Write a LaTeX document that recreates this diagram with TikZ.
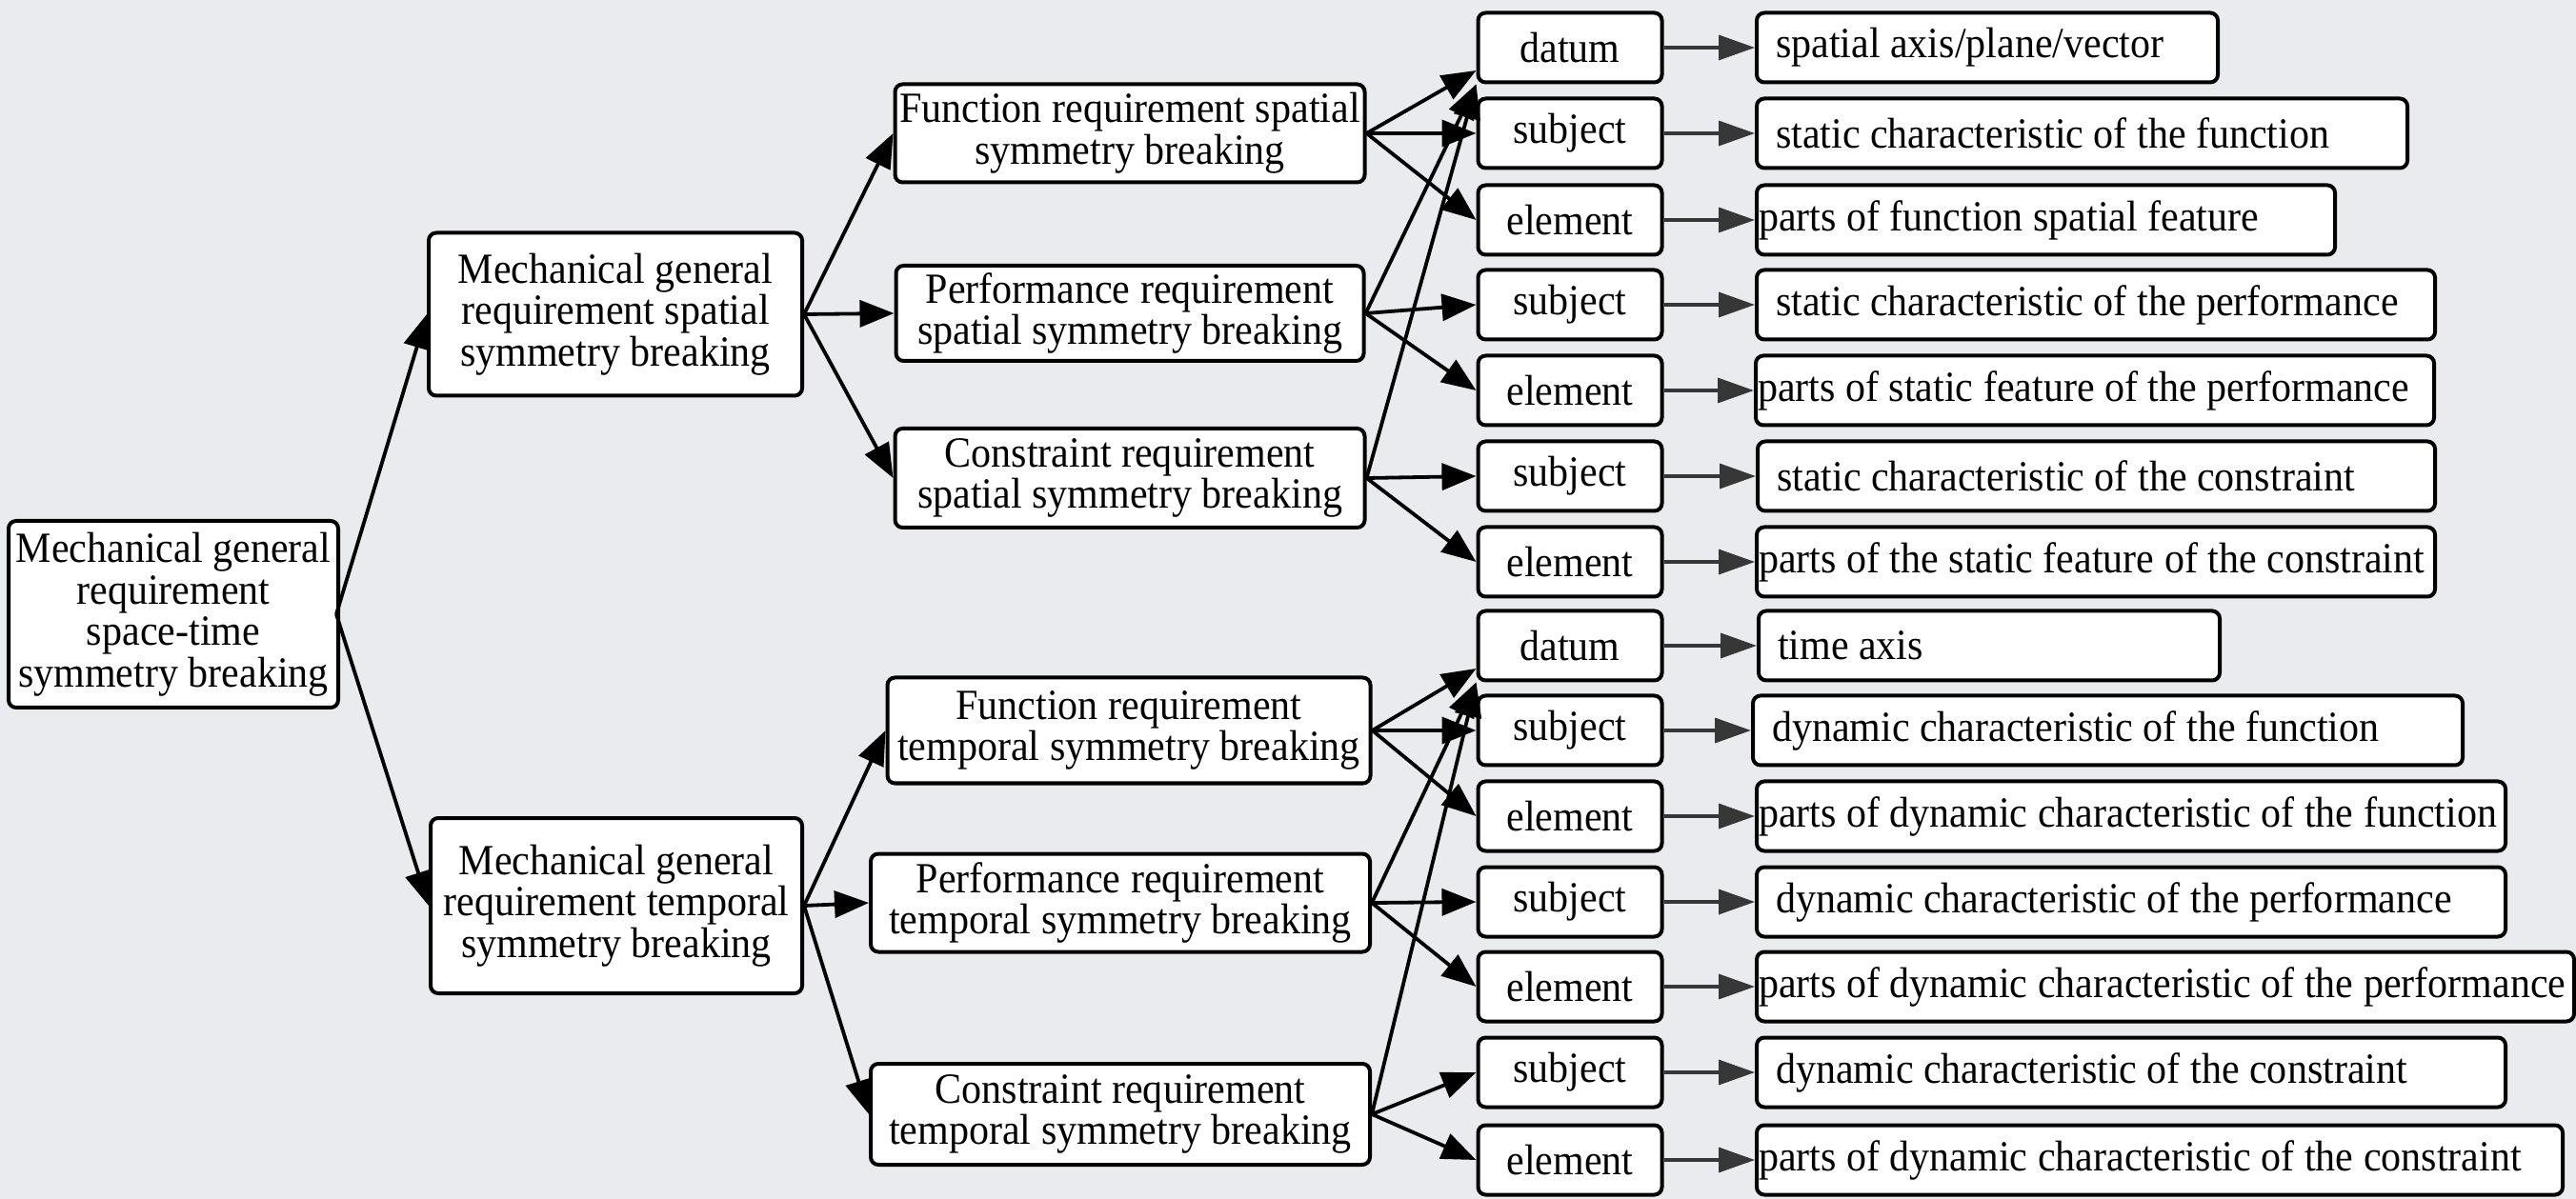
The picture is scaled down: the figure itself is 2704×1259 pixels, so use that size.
\documentclass[tikz,border=0pt]{standalone}
\usepackage{fontspec}
\setmainfont[FakeStretch=0.93]{Liberation Serif}
\usetikzlibrary{arrows.meta}
\definecolor{bgc}{RGB}{233,235,239}
\definecolor{darkg}{RGB}{55,55,55}
\newcommand{\rtxt}[2]{\makebox[#1][l]{#2}}
\begin{document}
\begin{tikzpicture}[x=0.25pt,y=-0.25pt,
  font=\fontsize{11.3pt}{10.9pt}\selectfont,
  box/.style={draw=black, line width=1pt, rounded corners=2pt, fill=white, align=center, inner sep=0pt},
  lbox/.style={draw=black, line width=1pt, rounded corners=2pt, fill=white, minimum height=18.25pt, inner sep=0pt, minimum width=48.25pt},
  rbox/.style={draw=black, line width=1pt, rounded corners=2pt, fill=white, anchor=west, minimum height=18.25pt, inner ysep=0pt, inner xsep=5pt},
  pbox/.style={rbox, inner xsep=0.5pt},
  arr/.style={draw=black, line width=0.95pt, -{Triangle[length=9pt,width=7pt]}},
  garr/.style={draw=darkg, color=darkg, line width=0.85pt, -{Triangle[length=9.5pt,width=6.5pt]}}
]
\fill[bgc] (0,0) rectangle (2704,1259);
\useasboundingbox (0,0) rectangle (2704,1259);

% level 1
\node[box, minimum width=86.5pt, minimum height=49pt] (root) at (182,645) {Mechanical general\\requirement\\space-time\\symmetry breaking};
% level 2
\node[box, minimum width=98pt, minimum height=42.75pt] (sm) at (646,330) {Mechanical general\\requirement spatial\\symmetry breaking};
\node[box, minimum width=97.5pt, minimum height=46pt] (tm) at (647,951) {Mechanical general\\requirement temporal\\symmetry breaking};
% level 3
\node[box, minimum width=123.25pt, minimum height=25.75pt] (fs) at (1186,140) {Function requirement spatial\\symmetry breaking};
\node[box, minimum width=122.75pt, minimum height=25pt] (ps) at (1186,329) {Performance requirement\\spatial symmetry breaking};
\node[box, minimum width=123.25pt, minimum height=26pt] (cs) at (1186,502) {Constraint requirement\\spatial symmetry breaking};
\node[box, minimum width=126.75pt, minimum height=27.75pt] (ft) at (1185,767) {Function requirement\\temporal symmetry breaking};
\node[box, minimum width=131pt, minimum height=25.75pt] (pt) at (1176,948) {Performance requirement\\temporal symmetry breaking};
\node[box, minimum width=131pt, minimum height=26.5pt] (ct) at (1176,1170) {Constraint requirement\\temporal symmetry breaking};
% level 4
\node[lbox] (d1) at (1648,50) {datum};
\node[lbox] (s2) at (1648,140) {subject};
\node[lbox] (e3) at (1648,231) {element};
\node[lbox] (s4) at (1648,320) {subject};
\node[lbox] (e5) at (1648,410) {element};
\node[lbox] (s6) at (1648,500) {subject};
\node[lbox] (e7) at (1648,590) {element};
\node[lbox] (d8) at (1648,678) {datum};
\node[lbox] (s9) at (1648,767) {subject};
\node[lbox] (e10) at (1648,857) {element};
\node[lbox] (s11) at (1648,947) {subject};
\node[lbox] (e12) at (1648,1036) {element};
\node[lbox] (s13) at (1648,1126) {subject};
\node[lbox] (e14) at (1648,1218) {element};
% level 5
\node[rbox] (r1) at (1842,50) {\rtxt{111pt}{spatial axis/plane/vector}};
\node[rbox] (r2) at (1842,140) {\rtxt{160.75pt}{static characteristic of the function}};
\node[pbox] (r3) at (1842,231) {\rtxt{150.75pt}{parts of function spatial feature}};
\node[rbox] (r4) at (1842,320) {\rtxt{168pt}{static characteristic of the performance}};
\node[pbox] (r5) at (1841,410) {\rtxt{177pt}{parts of static feature of the performance}};
\node[rbox] (r6) at (1843,500) {\rtxt{167.75pt}{static characteristic of the constraint}};
\node[pbox] (r7) at (1842,590) {\rtxt{177pt}{parts of the static feature of the constraint}};
\node[rbox] (r8) at (1844,678) {\rtxt{111pt}{time axis}};
\node[rbox] (r9) at (1838,767) {\rtxt{176.25pt}{dynamic characteristic of the function}};
\node[pbox] (r10) at (1842,857) {\rtxt{195.5pt}{parts of dynamic characteristic of the function}};
\node[rbox] (r11) at (1842,947) {\rtxt{186.5pt}{dynamic characteristic of the performance}};
\node[pbox] (r12) at (1842,1036) {\rtxt{213.5pt}{parts of dynamic characteristic of the performance}};
\node[rbox] (r13) at (1842,1126) {\rtxt{186.5pt}{dynamic characteristic of the constraint}};
\node[pbox] (r14) at (1842,1218) {\rtxt{210.5pt}{parts of dynamic characteristic of the constraint}};

% connectors level 1 -> 2
\draw[arr] ([xshift=-1pt]root.east) -- (sm.west);
\draw[arr] ([xshift=-1pt]root.east) -- (tm.west);
% level 2 -> 3
\draw[arr] (sm.east) -- (fs.west);
\draw[arr] (sm.east) -- (ps.west);
\draw[arr] (sm.east) -- (cs.west);
\draw[arr] (tm.east) -- (ft.west);
\draw[arr] (tm.east) -- (pt.west);
\draw[arr] (tm.east) -- (ct.west);
% level 3 -> 4
\draw[arr] (fs.east) -- ([yshift=-6pt]d1.west);
\draw[arr] (fs.east) -- (s2.west);
\draw[arr] (fs.east) -- (e3.west);
\draw[arr] (ps.east) -- (d1.south west);
\draw[arr] (ps.east) -- (s4.west);
\draw[arr] (ps.east) -- (e5.west);
\draw[arr] (cs.east) -- (d1.south west);
\draw[arr] (cs.east) -- (s6.west);
\draw[arr] (cs.east) -- (e7.west);
\draw[arr] (ft.east) -- ([yshift=-6pt]d8.west);
\draw[arr] (ft.east) -- (s9.west);
\draw[arr] (ft.east) -- (e10.west);
\draw[arr] (pt.east) -- (d8.south west);
\draw[arr] (pt.east) -- (s11.west);
\draw[arr] (pt.east) -- (e12.west);
\draw[arr] (ct.east) -- (d8.south west);
\draw[arr] (ct.east) -- (s13.west);
\draw[arr] (ct.east) -- (e14.west);
% level 4 -> 5
\foreach \a/\b in {d1/r1,s2/r2,e3/r3,s4/r4,e5/r5,s6/r6,e7/r7,d8/r8,s9/r9,e10/r10,s11/r11,e12/r12,s13/r13,e14/r14}
  \draw[garr] (\a.east) -- (\b.west);
\end{tikzpicture}
\end{document}
